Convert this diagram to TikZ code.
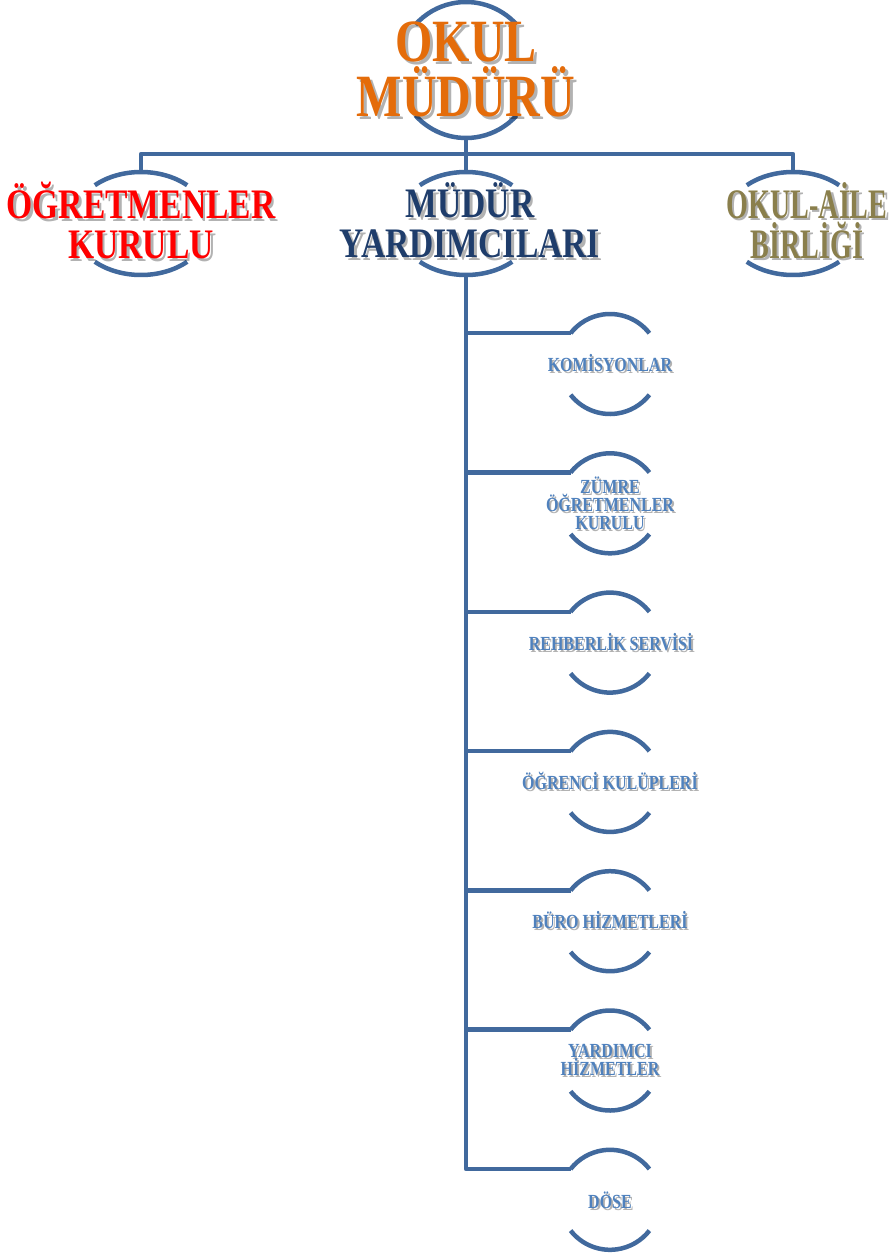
\documentclass[tikz,border=0pt]{standalone}
\usepackage{fontspec}
\newfontfamily\cambria[FakeStretch=0.8]{Liberation Serif}
\newfontfamily\cambrianarrow[FakeStretch=0.67]{Liberation Serif}
\usetikzlibrary{shapes.geometric}

\definecolor{linecol}{HTML}{41699D}
\definecolor{headorange}{HTML}{E46C0A}
\definecolor{kurulred}{HTML}{FF0000}
\definecolor{yrdnavy}{HTML}{1F3D6B}
\definecolor{aileolive}{HTML}{8A7F4C}
\definecolor{subblue}{HTML}{4F81BD}

% two arcs (top and bottom) round a node: name, x radius, y radius, start angle
\newcommand{\halfarcs}[4]{%
  \draw[rim] (#1.center) ++(#4:#2pt and #3pt)
    arc[start angle=#4, end angle=180-#4, x radius=#2pt, y radius=#3pt];
  \draw[rim] (#1.center) ++(180+#4:#2pt and #3pt)
    arc[start angle=180+#4, end angle=360-#4, x radius=#2pt, y radius=#3pt];}

% text with a soft grey shadow: name, position, style, text, shadow offset
\newcommand{\shadowtext}[5]{%
  \node[#3, text=black, text opacity=0.3] (#1s) at ([shift={(#5pt,-#5pt)}]#2) {#4};
  \node[#3] (#1) at (#2) {#4};}

\begin{document}
\begin{tikzpicture}[
	x=1pt, y=1pt,
	conn/.style={draw=linecol, line width=4.5pt, line join=round},
	rim/.style={draw=linecol, line width=4.5pt},
	head/.style={circle, inner sep=0pt, outer sep=0pt, minimum size=136pt},
	mid/.style={ellipse, inner sep=0pt, outer sep=0pt,
	minimum width=138pt, minimum height=103pt},
	sub/.style={circle, inner sep=0pt, outer sep=0pt, minimum size=100pt},
	bigtxt/.style={align=center, text=headorange,
	font=\cambria\bfseries\fontsize{60}{55}\selectfont},
	midtxt/.style={align=center,
	font=\cambria\bfseries\fontsize{42}{40}\selectfont},
	subtxt/.style={align=center, text=subblue,
	font=\cambria\bfseries\fontsize{20}{17.5}\selectfont},
	]
	\useasboundingbox (0,0) rectangle (892,-1257);

	% shapes
	\node[head] (okul) at (466,-70) {};
	\node[mid] (ogr) at (141,-223.5) {};
	\node[mid] (yrd) at (466,-223.5) {};
	\node[mid] (aile) at (793,-223.5) {};
	\node[sub] (kom) at (610,-364) {};
	\node[sub] (zum) at (610,-503.3) {};
	\node[sub] (reh) at (610,-642.6) {};
	\node[sub] (kul) at (610,-781.9) {};
	\node[sub] (buro) at (610,-921.2) {};
	\node[sub] (hiz) at (610,-1060.5) {};
	\node[sub] (dose) at (610,-1199.8) {};

	\halfarcs{okul}{68}{68}{42}
	\halfarcs{ogr}{69}{51.5}{48}
	\halfarcs{yrd}{69}{51.5}{48}
	\halfarcs{aile}{69}{51.5}{48}
	\foreach \n in {kom,zum,reh,kul,buro,hiz,dose}
		{\halfarcs{\n}{50}{50}{38}}

	% connectors
	\coordinate (bus) at ([yshift=-16pt]okul.south);
	\draw[conn] (okul.south) -- (bus) -- (yrd.north);
	\draw[conn] (ogr.north) |- (bus) -| (aile.north);
	\draw[conn] (yrd.south) |- (dose.142);
	\foreach \n in {kom,zum,reh,kul,buro,hiz}
		\draw[conn] (yrd.south |- \n.142) -- (\n.142);

	% labels
	\shadowtext{okult}{466,-69.5}{bigtxt}{OKUL\\MÜDÜRÜ}{3}
	\shadowtext{ogrt}{141,-220.5}{midtxt, text=kurulred}{ÖĞRETMENLER\\KURULU}{2.5}
	\shadowtext{yrdt}{470,-220.5}{midtxt, text=yrdnavy}{MÜDÜR\\YARDIMCILARI}{2.5}
	\shadowtext{ailet}{807,-220.5}{midtxt, text=aileolive,
		font=\cambrianarrow\bfseries\fontsize{42}{40}\selectfont}{OKUL-AİLE\\BİRLİĞİ}{2.5}
	\shadowtext{komt}{610,-363}{subtxt}{KOMİSYONLAR}{1.8}
	\shadowtext{zumt}{610,-503}{subtxt}{ZÜMRE\\ÖĞRETMENLER\\KURULU}{1.8}
	\shadowtext{reht}{611,-642}{subtxt}{REHBERLİK SERVİSİ}{1.8}
	\shadowtext{kult}{610,-781}{subtxt}{ÖĞRENCİ KULÜPLERİ}{1.8}
	\shadowtext{burot}{610,-920}{subtxt}{BÜRO HİZMETLERİ}{1.8}
	\shadowtext{hizt}{610,-1060}{subtxt}{YARDIMCI\\HİZMETLER}{1.8}
	\shadowtext{doset}{610,-1200}{subtxt}{DÖSE}{1.8}
\end{tikzpicture}
\end{document}
